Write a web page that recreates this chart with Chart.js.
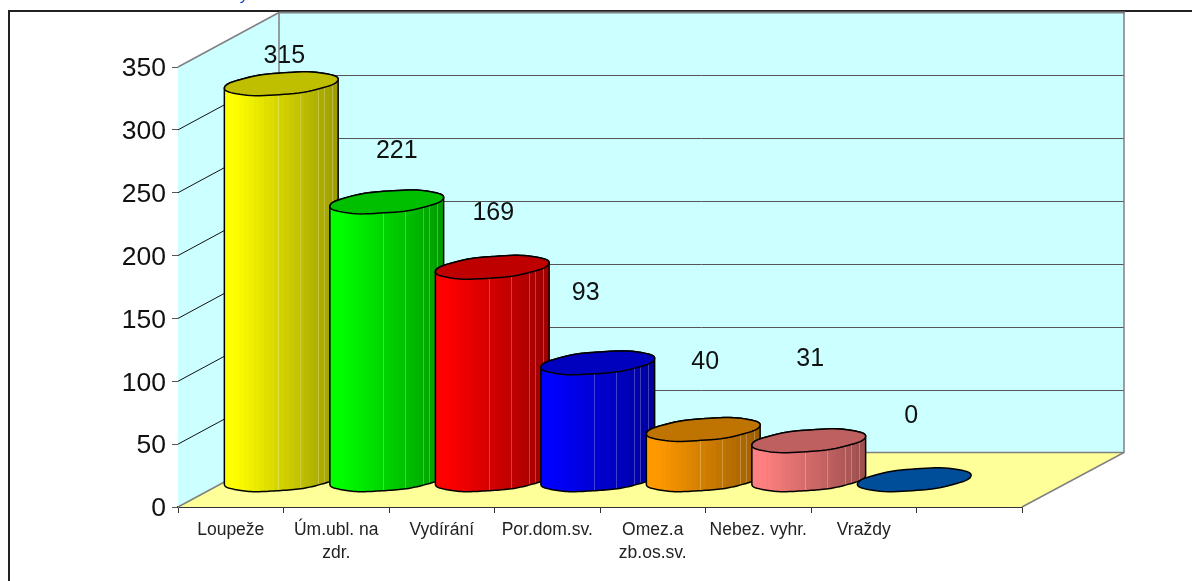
<!DOCTYPE html>
<html>
<head>
<meta charset="utf-8">
<style>
html,body{margin:0;padding:0;background:#fff;overflow:hidden}
#wrap{position:absolute;left:0;top:0;width:1192px;height:581px}
</style>
<script src="https://cdn.jsdelivr.net/npm/chart.js@4/dist/chart.umd.min.js"></script>
</head>
<body>
<div id="wrap"><canvas id="c" width="1192" height="581"></canvas></div>
<script>
const categories = ['Loupeže', ['Úm.ubl. na', 'zdr.'], 'Vydírání', 'Por.dom.sv.', ['Omez.a', 'zb.os.sv.'], 'Nebez. vyhr.', 'Vraždy', ''];
const values = [315, 221, 169, 93, 40, 31, 0, null];
const barColors = [[255,255,0],[0,255,0],[255,0,0],[0,0,255],[255,153,0],[255,128,128],[0,102,204],[0,0,0]];
const yTicks = [0, 50, 100, 150, 200, 250, 300, 350];
const labelShift = [[3,-27.5],[10,-50.5],[1,-54.5],[-12,-69.5],[2,-67.5],[1.5,-81.5],[-3,-63.5],[0,0]];

const DX = 101, DY = 54.5;           // projected depth of the 3D box
const RX_A = 52.75, RX_B = 21.3, RY = 11.8; // projected circle of a cylinder
const seams = [0.47, 0.66, 0.82, 0.875, 0.94];

function css(c, f){ return 'rgb(' + c.map(v => Math.round(v * f)).join(',') + ')'; }

// Outline point of a cylinder's disc: a projected circle with a faintly uneven edge
function discPoint(cx, cy, t){
  const c = Math.cos(t), s = Math.sin(t);
  return [cx + RX_A * c + RX_B * s, cy - RY * s + 0.22 * Math.sin(7 * t + 1)];
}
function discPath(ctx, cx, cy, from, to, move){
  const n = 72;
  for(let i = 0; i <= n; i++){
    const [x, y] = discPoint(cx, cy, from + (to - from) * i / n);
    if(i === 0 && move) ctx.moveTo(x, y); else ctx.lineTo(x, y);
  }
}
function bodyPath(ctx, cx, top, base, tan){
  ctx.beginPath();
  discPath(ctx, cx, top, tan, tan + Math.PI, true);
  discPath(ctx, cx, base, tan + Math.PI, tan + 2 * Math.PI, false);
  ctx.closePath();
}

const box3d = {
  id: 'box3d',
  beforeDatasetsDraw(chart){
    const {ctx, scales:{x, y}} = chart;
    const L = x.left, R = x.right, T = y.getPixelForValue(350), B = y.getPixelForValue(0);
    ctx.save();
    ctx.fillStyle = '#CCFFFF';
    ctx.beginPath(); ctx.moveTo(L,T); ctx.lineTo(L+DX,T-DY); ctx.lineTo(R+DX+1,T-DY); ctx.lineTo(R+DX+1,B-DY); ctx.lineTo(L+DX,B-DY); ctx.lineTo(L,B); ctx.closePath(); ctx.fill();
    ctx.fillStyle = '#FFFF99';
    ctx.beginPath(); ctx.moveTo(L,B); ctx.lineTo(L+DX,B-DY); ctx.lineTo(R+DX+1,B-DY); ctx.lineTo(R,B); ctx.closePath(); ctx.fill();
    // gridlines on the side and back walls
    yTicks.slice(1, -1).forEach(v => {
      const p = y.getPixelForValue(v);
      ctx.strokeStyle = '#111'; ctx.lineWidth = 1;
      ctx.beginPath(); ctx.moveTo(L, p); ctx.lineTo(L+DX, p-DY); ctx.stroke();
      ctx.strokeStyle = '#555';
      ctx.beginPath(); ctx.moveTo(L+DX, Math.round(p-DY)+0.5); ctx.lineTo(R+DX+1, Math.round(p-DY)+0.5); ctx.stroke();
    });
    // outline of the box
    ctx.strokeStyle = '#808080'; ctx.lineWidth = 1.5;
    ctx.beginPath(); ctx.moveTo(L,T); ctx.lineTo(L+DX,T-DY); ctx.moveTo(R+DX+1,T-DY); ctx.lineTo(R+DX+1,B-DY); ctx.lineTo(R,B); ctx.stroke();
    ctx.beginPath(); ctx.moveTo(L+DX,T-DY); ctx.lineTo(L+DX,B-DY); ctx.lineTo(R+DX+1,B-DY); ctx.moveTo(L+DX,B-DY); ctx.lineTo(L,B); ctx.stroke();
    ctx.lineWidth = 2;
    ctx.beginPath(); ctx.moveTo(L+DX,T-DY); ctx.lineTo(R+DX+2,T-DY); ctx.stroke();
    ctx.restore();
  }
};

const cylinders = {
  id: 'cylinders',
  afterDatasetsDraw(chart){
    const {ctx, scales:{y}} = chart;
    const meta = chart.getDatasetMeta(0);
    const base = y.getPixelForValue(0) - DY / 2;
    const tan = Math.atan2(RX_B, RX_A);
    const W = Math.hypot(RX_A, RX_B);
    ctx.save();
    meta.data.forEach((bar, i) => {
      if(values[i] === null) return;
      const cx = bar.x + DX / 2, top = bar.y - DY / 2, col = barColors[i];
      if(values[i] > 0){
        ctx.save();
        bodyPath(ctx, cx, top, base, tan);
        ctx.clip();
        const left = Math.floor(cx - W), width = 2 * W + 1, step = 5;
        for(let px = 0; px < width; px += step){
          const t = px / width;
          const f = t < 0.07 ? 1 : 1 - 0.4 * (t - 0.07) / 0.93;
          ctx.fillStyle = css(col, f);
          ctx.fillRect(left + px, top - 20, step, base - top + 40);
        }
        ctx.lineWidth = 1;
        ctx.strokeStyle = 'rgba(255,255,255,0.25)';
        seams.forEach(s => {
          const sx = Math.round(left + s * width) + 0.5;
          ctx.beginPath(); ctx.moveTo(sx, top - 20); ctx.lineTo(sx, base + 20); ctx.stroke();
        });
        ctx.restore();
        bodyPath(ctx, cx, top, base, tan);
        ctx.strokeStyle = '#000'; ctx.lineWidth = 1.5;
        ctx.stroke();
      }
      ctx.beginPath();
      discPath(ctx, cx, top, 0, 2 * Math.PI, true);
      ctx.closePath();
      ctx.fillStyle = css(col, 0.75);
      ctx.fill();
      ctx.strokeStyle = '#000'; ctx.lineWidth = 1.5;
      ctx.stroke();
    });
    // data labels
    ctx.fillStyle = '#111';
    ctx.font = '25px "Liberation Sans", Arial, sans-serif';
    ctx.textAlign = 'center'; ctx.textBaseline = 'middle';
    meta.data.forEach((bar, i) => {
      if(values[i] === null) return;
      ctx.fillText(String(values[i]), bar.x + DX / 2 + labelShift[i][0], bar.y - DY / 2 + labelShift[i][1]);
    });
    ctx.restore();
  }
};

const frame = {
  id: 'frame',
  afterLayout(chart){
    // nudge the value labels down so the digits centre on their ticks
    chart.scales.y.getLabelItems().forEach(it => { it.options.translation[1] += 2; });
  },
  beforeDraw(chart){
    const {ctx} = chart;
    ctx.save();
    ctx.fillStyle = '#fff'; ctx.fillRect(0, 0, 1192, 581);
    ctx.strokeStyle = '#222'; ctx.lineWidth = 2;
    ctx.beginPath(); ctx.moveTo(9, 581); ctx.lineTo(9, 11); ctx.lineTo(1192, 11); ctx.stroke();
    ctx.fillStyle = '#0033CC';
    ctx.font = 'italic 15px "Liberation Sans", Arial, sans-serif';
    ctx.textAlign = 'left'; ctx.textBaseline = 'alphabetic';
    ctx.fillText('y', 241, -0.5);
    ctx.restore();
  }
};

new Chart(document.getElementById('c'), {
  type: 'bar',
  data: {
    labels: categories,
    datasets: [{ data: values, backgroundColor: 'rgba(0,0,0,0)', borderWidth: 0 }]
  },
  plugins: [frame, box3d, cylinders],
  options: {
    responsive: false,
    animation: false,
    layout: { padding: { left: 0, right: 170, top: 67, bottom: 0 } },
    plugins: { legend: { display: false }, tooltip: { enabled: false }, title: { display: false } },
    scales: {
      x: {
        afterFit(s){ s.height = 74; },
        grid: { drawOnChartArea: false, color: '#333', tickLength: 6, offset: true },
        border: { color: '#333', width: 2 },
        ticks: { color: '#222', autoSkip: false, maxRotation: 0, minRotation: 0, padding: 5,
                 font: { family: '"Liberation Sans", Arial, sans-serif', size: 17.5, lineHeight: 1.35 } }
      },
      y: {
        min: 0, max: 350,
        afterFit(s){ s.width = 178; },
        afterBuildTicks(s){ s.ticks = yTicks.map(v => ({ value: v })); },
        grid: { drawOnChartArea: false, color: '#555', tickLength: 6 },
        border: { color: '#808080', width: 1 },
        ticks: { color: '#111', padding: 6,
                 font: { family: '"Liberation Sans", Arial, sans-serif', size: 26.5 } }
      }
    }
  }
});
</script>
</body>
</html>
